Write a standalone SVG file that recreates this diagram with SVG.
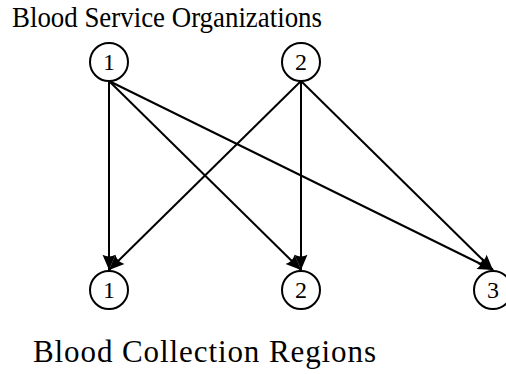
<svg xmlns="http://www.w3.org/2000/svg" width="506" height="374" viewBox="0 0 506 374">
<defs>
<style>
.node circle{fill:#fff;stroke:#000;stroke-width:2}
.node text{font-family:'Liberation Serif',serif;font-size:24px;text-anchor:middle;fill:#000}
.edges line{stroke:#000;stroke-width:2;marker-end:url(#arr)}
</style>
<marker id="arr" markerUnits="userSpaceOnUse" markerWidth="20" markerHeight="20" viewBox="-15 -8 17 16" refX="0" refY="0" orient="auto">
<path d="M0,0 L-13,-5.5 Q-10,0 -13,5.5 Z" fill="#000"/>
</marker>
</defs>
<rect width="506" height="374" fill="#fff"/>
<text x="12" y="27" font-family="Liberation Serif, serif" font-size="29" textLength="310" lengthAdjust="spacingAndGlyphs" fill="#000">Blood Service Organizations</text>
<text x="33" y="362" font-family="Liberation Serif, serif" font-size="31" textLength="343" lengthAdjust="spacing" fill="#000">Blood Collection Regions</text>
<g class="edges">
<line x1="109" y1="81" x2="109" y2="270"/>
<line x1="109" y1="81" x2="301" y2="270"/>
<line x1="109" y1="81" x2="493" y2="270"/>
<line x1="301" y1="81" x2="109" y2="270"/>
<line x1="301" y1="81" x2="301" y2="270"/>
<line x1="301" y1="81" x2="493" y2="270"/>
</g>
<g id="s1" class="node"><circle cx="109" cy="62" r="19"/><text x="109" y="70">1</text></g>
<g id="s2" class="node"><circle cx="301" cy="62" r="19"/><text x="301" y="70">2</text></g>
<g id="r1" class="node"><circle cx="109" cy="290" r="19"/><text x="109" y="298">1</text></g>
<g id="r2" class="node"><circle cx="301" cy="290" r="19"/><text x="301" y="298">2</text></g>
<g id="r3" class="node"><circle cx="493" cy="290" r="19"/><text x="493" y="298">3</text></g>
</svg>
